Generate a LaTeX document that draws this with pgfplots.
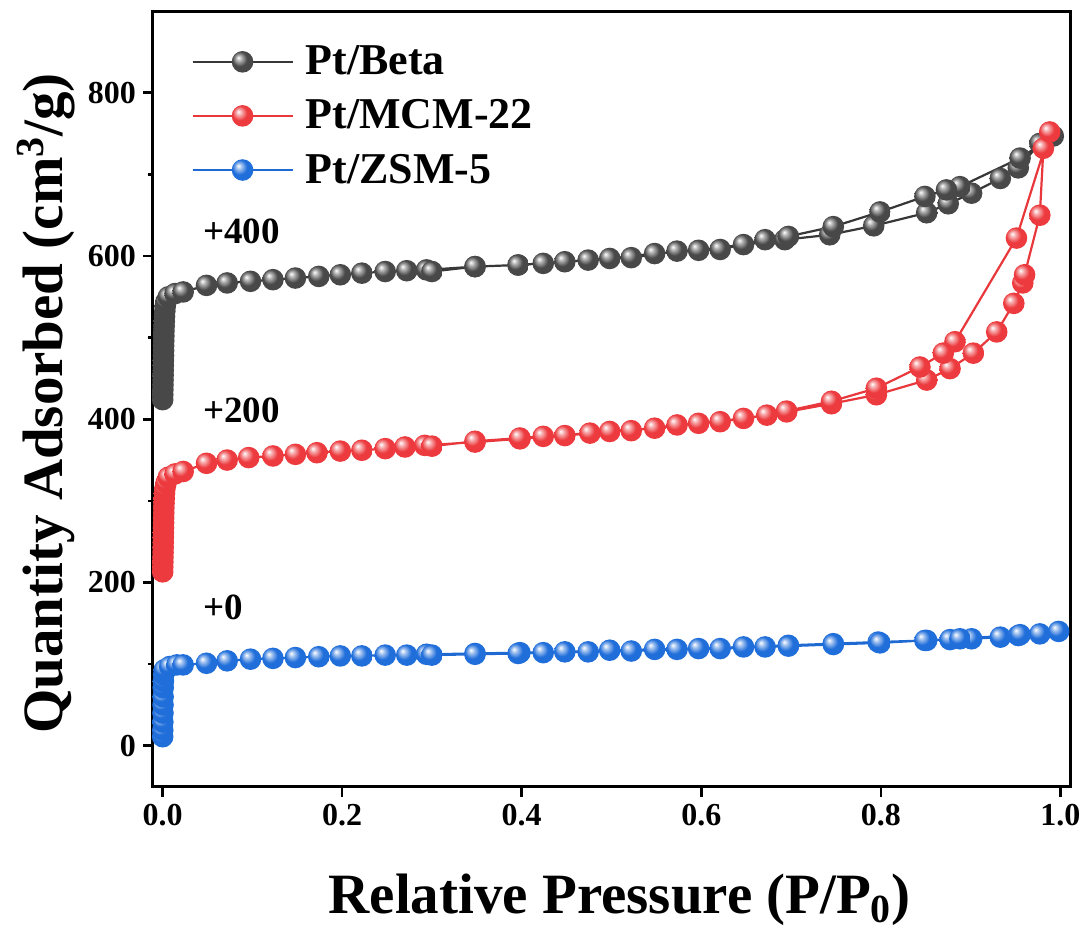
\documentclass[border=0pt]{standalone}
\usepackage{fontspec}
\setmainfont{Liberation Serif}
\usepackage{pgfplots}
\pgfplotsset{compat=1.18}
\definecolor{cgray}{RGB}{72,72,72}
\definecolor{cred}{RGB}{236,58,62}
\definecolor{cblue}{RGB}{32,110,218}
\definecolor{lgray}{RGB}{55,55,55}
\definecolor{lred}{RGB}{232,56,60}
\definecolor{lblue}{RGB}{30,105,210}
\pgfdeclareradialshading{ballgray}{\pgfpoint{-10bp}{10bp}}{color(0bp)=(white); color(7bp)=(cgray!45!white); color(17bp)=(cgray); color(45bp)=(cgray); color(50bp)=(cgray!85!black)}
\pgfdeclareradialshading{ballred}{\pgfpoint{-10bp}{10bp}}{color(0bp)=(white); color(7bp)=(cred!45!white); color(17bp)=(cred); color(45bp)=(cred); color(50bp)=(cred!90!black)}
\pgfdeclareradialshading{ballblue}{\pgfpoint{-10bp}{10bp}}{color(0bp)=(white); color(7bp)=(cblue!45!white); color(17bp)=(cblue); color(45bp)=(cblue); color(50bp)=(cblue!90!black)}
\pgfdeclareplotmark{ballgray}{\pgfpathcircle{\pgfpointorigin}{\pgfplotmarksize}\pgfshadepath{ballgray}{0}\pgfusepath{}}
\pgfdeclareplotmark{ballred}{\pgfpathcircle{\pgfpointorigin}{\pgfplotmarksize}\pgfshadepath{ballred}{0}\pgfusepath{}}
\pgfdeclareplotmark{ballblue}{\pgfpathcircle{\pgfpointorigin}{\pgfplotmarksize}\pgfshadepath{ballblue}{0}\pgfusepath{}}
\begin{document}
\begin{tikzpicture}
\path[use as bounding box] (-76.5pt,-71.5pt) rectangle (467.5pt,393.5pt);
\begin{axis}[
  scale only axis, width=458.5pt, height=387.5pt,
  xmin=-0.0106, xmax=1.0106, ymin=-50.6, ymax=899,
  xtick={0,0.2,0.4,0.6,0.8,1.0}, ytick={0,200,400,600,800},
  minor y tick num=1,
  tick align=outside, xtick pos=bottom, ytick pos=left,
  major tick length=5pt, minor tick length=2.5pt,
  every tick/.style={black, line width=1.3pt},
  axis line style={line width=1.5pt},
  /pgf/number format/assume math mode=true,
  ticklabel style={font=\bfseries\fontsize{16}{19}\selectfont},
  xticklabel style={/pgf/number format/.cd, fixed, fixed zerofill, precision=1},
  yticklabel style={/pgf/number format/.cd, fixed, precision=0},
  every axis x label/.style={at={(axis description cs:0.509,-0.1626)}, anchor=base},
  every axis y label/.style={at={(axis description cs:-0.0992,0.495)}, rotate=90, anchor=base},
  label style={font=\bfseries\fontsize{28.5}{34}\selectfont},
  xlabel={Relative Pressure (P/P\textsubscript{0})},
  ylabel={Quantity Adsorbed (cm\textsuperscript{3}/g)},
  legend style={at={(axis description cs:0.0415,0.962)}, anchor=north west, draw=none, fill=none,
    font=\bfseries\fontsize{22}{25}\selectfont, row sep=7pt, column sep=4pt, inner sep=0pt},
  legend cell align=left,
  legend image code/.code={\draw[mark repeat=2,mark phase=2] plot coordinates {(0pt,0pt) (25pt,0pt) (50pt,0pt)};},
  mark size=5.4pt,
]
\addplot[lgray, line width=1.1pt, mark=ballgray] coordinates {
(0.0002,424)(0.0003,430)(0.0004,436)(0.0005,442)(0.0006,448)(0.0007,454)(0.0008,460)(0.0009,466)(0.0010,472)(0.0011,478)(0.0012,484)(0.0013,490)(0.0014,496)(0.0015,502)(0.0016,508)(0.0018,514)(0.0020,520)(0.0022,526)(0.0025,532)(0.0030,538)(0.0038,544)(0.0065,550)(0.014,554)(0.023,556)(0.049,564)(0.072,567)(0.098,569)(0.123,571)(0.148,573)(0.174,575)(0.198,577)(0.222,579)(0.248,581)(0.272,582)(0.294,583)(0.348,587)(0.396,589)(0.448,593)(0.498,597)(0.548,603)(0.597,607)(0.647,614)(0.693,620)(0.743,626)(0.792,637)(0.851,653)(0.875,664)(0.901,677)(0.933,695)(0.953,708)(0.977,738)(0.992,747)
(0.955,720)(0.888,685)(0.873,681)(0.849,673)(0.799,654)(0.747,636)(0.697,624)(0.671,620)(0.621,608)(0.573,606)(0.522,598)(0.474,595)(0.424,591)(0.396,589)(0.348,587)(0.300,581)
};
\addlegendentry{Pt/Beta}
\addplot[lred, line width=1.1pt, mark=ballred] coordinates {
(0.0002,213)(0.0003,219)(0.0004,225)(0.0005,231)(0.0006,237)(0.0007,243)(0.0008,249)(0.0009,255)(0.0010,261)(0.0011,267)(0.0012,273)(0.0013,279)(0.0014,285)(0.0015,291)(0.0017,297)(0.0019,303)(0.0022,309)(0.0027,315)(0.004,322)(0.0065,329)(0.014,333)(0.023,336)(0.049,346)(0.072,350)(0.096,353)(0.123,355)(0.148,357)(0.172,359)(0.198,361)(0.222,362)(0.248,364)(0.270,366)(0.292,368)(0.348,372)(0.398,376)(0.448,380)(0.498,385)(0.548,389)(0.597,395)(0.647,401)(0.695,409)(0.745,419)(0.795,430)(0.851,448)(0.877,462)(0.903,481)(0.929,507)(0.948,542)(0.958,567)(0.960,577)(0.977,650)(0.981,732)(0.988,752)
(0.951,622)(0.8825,495)(0.8695,481)(0.8435,464)(0.795,438)(0.745,422)(0.695,410)(0.673,405)(0.621,397)(0.573,393)(0.522,386)(0.476,383)(0.424,379)(0.398,377)(0.348,373)(0.300,367)
};
\addlegendentry{Pt/MCM-22}
\addplot[lblue, line width=1.1pt, mark=ballblue] coordinates {
(0.0002,11)(0.0003,19)(0.0004,29)(0.0005,40)(0.0006,50)(0.0007,60)(0.0008,71)(0.0010,79)(0.0013,87)(0.002,93)(0.008,97)(0.016,99)(0.023,99)(0.049,101)(0.072,104)(0.098,106)(0.123,107)(0.148,108)(0.174,109)(0.198,110)(0.222,110)(0.248,111)(0.272,111)(0.294,112)(0.348,113)(0.398,114)(0.448,115)(0.498,117)(0.548,118)(0.597,119)(0.647,121)(0.697,123)(0.747,125)(0.797,127)(0.851,129)(0.877,130)(0.901,131)(0.933,133)(0.953,135)(0.977,137)(0.998,140)
(0.955,136)(0.888,131)(0.849,129)(0.799,126)(0.747,124)(0.697,122)(0.671,121)(0.621,119)(0.573,118)(0.522,116)(0.474,115)(0.424,114)(0.396,113)(0.348,112)(0.300,111)
};
\addlegendentry{Pt/ZSM-5}
\node[anchor=west, font=\bfseries\fontsize{18.5}{22}\selectfont, inner sep=0pt] at (axis cs:0.045,630) {+400};
\node[anchor=west, font=\bfseries\fontsize{18.5}{22}\selectfont, inner sep=0pt] at (axis cs:0.045,411) {+200};
\node[anchor=west, font=\bfseries\fontsize{18.5}{22}\selectfont, inner sep=0pt] at (axis cs:0.045,169) {+0};
\end{axis}
\end{tikzpicture}
\end{document}
